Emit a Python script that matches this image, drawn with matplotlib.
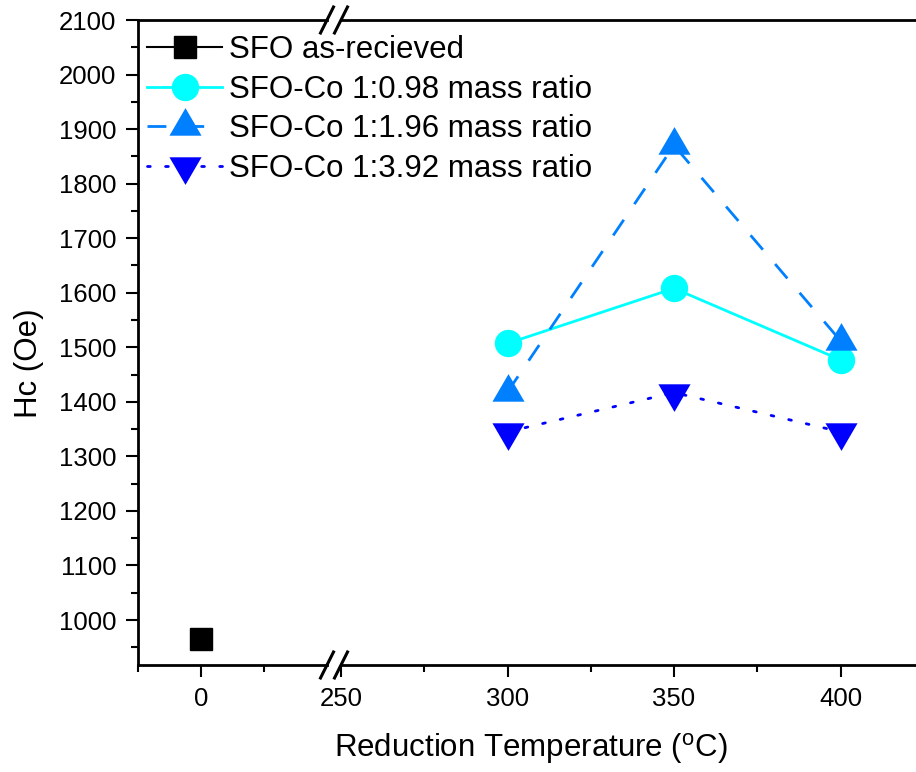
import matplotlib
matplotlib.use("Agg")
import matplotlib.pyplot as plt
from matplotlib.lines import Line2D
from matplotlib.path import Path

plt.rcParams['font.family'] = ['Liberation Sans', 'DejaVu Sans']
plt.rcParams['mathtext.fontset'] = 'custom'
plt.rcParams['mathtext.rm'] = 'Liberation Sans'

# Coercivity data
asrec_temp = [0]
asrec_hc = [966]
temps = [300, 350, 400]
hc_098 = [1507, 1608, 1477]
hc_196 = [1418, 1870, 1512]
hc_392 = [1345, 1417, 1345]
series_labels = ["SFO as-recieved",
                 "SFO-Co 1:0.98 mass ratio",
                 "SFO-Co 1:1.96 mass ratio",
                 "SFO-Co 1:3.92 mass ratio"]
y_ticks = list(range(1000, 2101, 100))
left_ticks = [0]
right_ticks = [250, 300, 350, 400]

W, H = 916, 772
fig = plt.figure(figsize=(W / 100, H / 100), dpi=100)


def fx(px):
    return px / W


def fy(py):
    return 1 - py / H


top_px, bot_px = 20, 665
ax_h = (bot_px - top_px) / H
axL = fig.add_axes([fx(138), fy(bot_px), fx(327 - 138), ax_h])
axR = fig.add_axes([fx(341), fy(bot_px), fx(W - 341), ax_h])

# triangle markers centred on their centroid
w, h = 2.0, 1.72
up_tri = Path([(0, 2 * h / 3), (-w / 2, -h / 3), (w / 2, -h / 3), (0, 2 * h / 3)],
              [Path.MOVETO, Path.LINETO, Path.LINETO, Path.CLOSEPOLY])
dn_tri = Path([(0, -2 * h / 3), (-w / 2, h / 3), (w / 2, h / 3), (0, -2 * h / 3)],
              [Path.MOVETO, Path.LINETO, Path.LINETO, Path.CLOSEPOLY])
tri_ms = 26.5

c_cyan = '#00FFFF'
c_mid = '#0080FF'
c_blue = '#0000FF'

l0, = axL.plot(asrec_temp, asrec_hc, color='black', lw=1.5, marker='s',
               ms=16.5, mfc='black', mec='black', label=series_labels[0])
l1, = axR.plot(temps, hc_098, color=c_cyan, lw=2, marker='o', ms=18.7,
               mfc=c_cyan, mec=c_cyan, label=series_labels[1])
l2, = axR.plot(temps, hc_196, color=c_mid, lw=2, marker=up_tri, ms=tri_ms,
               mfc=c_mid, mec=c_mid, mew=0, dashes=(6.8, 6.8),
               label=series_labels[2])
l3, = axR.plot(temps, hc_392, color=c_blue, lw=2, marker=dn_tri, ms=tri_ms,
               mfc=c_blue, mec=c_blue, mew=0, dashes=(1, 5.5),
               dash_capstyle='round', label=series_labels[3])

for ax in (axL, axR):
    ax.set_ylim(917.5, 2100)
    for s in ax.spines.values():
        s.set_linewidth(2.0)
    ax.spines['right'].set_visible(False)
    ax.tick_params(axis='both', which='major', direction='out', length=8.5,
                   width=1.5, labelsize=18.5, pad=7, top=False, right=False)
    ax.tick_params(axis='both', which='minor', direction='out', length=5,
                   width=1.5, top=False, right=False)

axR.spines['left'].set_visible(False)
axR.tick_params(axis='y', which='both', left=False, labelleft=False)

axL.set_xlim(-25, 50)
axL.set_xticks(left_ticks)
axL.set_xticks([-25, 25], minor=True)
axL.set_yticks(y_ticks)
axL.set_yticks([v + 50 for v in y_ticks[:-1]] + [950], minor=True)

axR.set_xlim(250, 250 + (W - 341) / 3.33)
axR.set_xticks(right_ticks)
axR.set_xticks([275, 325, 375], minor=True)
axR.set_yticks(y_ticks)

fig.text(fx(29), fy(363), "Hc (Oe)", rotation=90, ha='center', va='center',
         fontsize=22.5)
fig.text(fx(531), fy(748), r"Reduction Temperature ($^{\rm o}$C)",
         ha='center', va='center', fontsize=22.5)

# axis break marks
for yc in (top_px, bot_px):
    for xc in (327, 341):
        fig.add_artist(Line2D([fx(xc - 6.5), fx(xc + 6.5)],
                              [fy(yc + 13), fy(yc - 13)],
                              color='black', lw=2.2,
                              transform=fig.transFigure, clip_on=False))

fig.legend(handles=[l0, l1, l2, l3], loc='upper left',
           bbox_to_anchor=(fx(147), fy(35)), frameon=False, fontsize=22.5,
           handlelength=2.4, handletextpad=0.22, labelspacing=0.31,
           borderpad=0, borderaxespad=0)

fig.savefig("out.png", dpi=100)
